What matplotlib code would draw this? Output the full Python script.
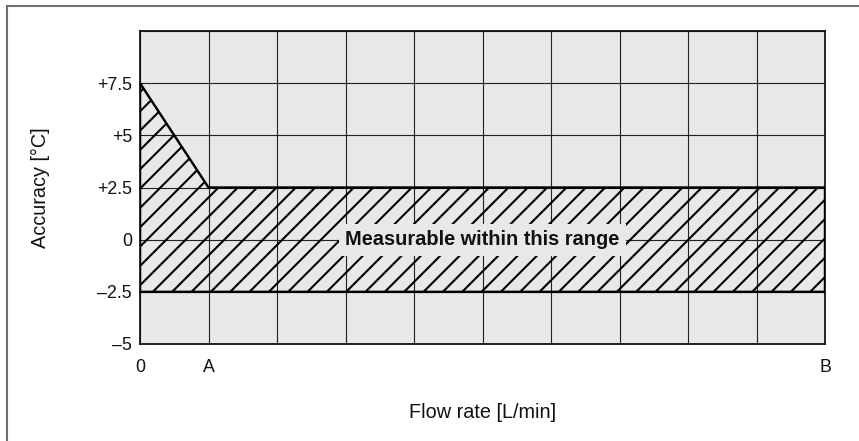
import matplotlib
matplotlib.use('Agg')
import matplotlib.pyplot as plt
from matplotlib.lines import Line2D
from matplotlib.patches import Polygon

# data
x_grid = list(range(0, 11))
x_tick_labels = {0: '0', 1: 'A', 10: 'B'}
y_grid = [-5, -2.5, 0, 2.5, 5, 7.5, 10]
y_tick_labels = ['\u20135', '\u20132.5', '0', '+2.5', '+5', '+7.5', '']
band_x = [0, 0, 1, 10, 10]
band_y = [-2.5, 7.5, 2.5, 2.5, -2.5]
band_text = 'Measurable within this range'

DPI = 116
plt.rcParams['font.family'] = ['Liberation Sans', 'DejaVu Sans']
plt.rcParams['hatch.linewidth'] = 1.3
plt.rcParams['hatch.color'] = 'black'

fig = plt.figure(figsize=(859 / DPI, 441 / DPI), dpi=DPI)
ax = fig.add_axes([140 / 859, 1 - 344 / 441, 685 / 859, 313 / 441])
ax.set_facecolor('#e7e8e8')

ax.set_xlim(x_grid[0], x_grid[-1])
ax.set_ylim(y_grid[0], y_grid[-1])
ax.set_xticks(x_grid)
ax.set_xticklabels([x_tick_labels.get(v, '') for v in x_grid])
ax.set_yticks(y_grid)
ax.set_yticklabels(y_tick_labels)
ax.tick_params(length=0, labelsize=11, colors='#111111')
ax.tick_params(axis='x', pad=9)
ax.tick_params(axis='y', pad=5)
ax.grid(True, color='#222222', linewidth=0.7)
ax.set_axisbelow(True)
for sp in ax.spines.values():
    sp.set_linewidth(1.1)
    sp.set_color('#111111')

# hatched region
poly = Polygon(list(zip(band_x, band_y)), closed=True, facecolor='none',
               edgecolor='black', hatch='//', linewidth=1.5, zorder=3)
ax.add_patch(poly)

ax.text(5, 0, band_text, ha='center', va='center', fontsize=12.4,
        fontweight='bold', color='#111111', zorder=5,
        bbox=dict(facecolor='#e7e8e8', edgecolor='none', pad=4))

ax.set_ylabel('Accuracy [\u00b0C]', fontsize=12.3, color='#111111')
ax.yaxis.set_label_coords((40 - 140) / 685, 0.5)
ax.yaxis.label.set_verticalalignment('center')
ax.set_xlabel('Flow rate [L/min]', fontsize=12.3, color='#111111')
ax.xaxis.set_label_coords(0.5, (344 - 412) / 313)
ax.xaxis.label.set_verticalalignment('center')

# outer frame (top and left only)
x0, y0 = 6.5 / 859, 1 - 6 / 441
fig.add_artist(Line2D([x0, 1], [y0, y0], color='#707070', linewidth=1.3,
                      transform=fig.transFigure))
fig.add_artist(Line2D([x0, x0], [0, y0], color='#707070', linewidth=1.3,
                      transform=fig.transFigure))

fig.savefig('out.png', dpi=DPI)
